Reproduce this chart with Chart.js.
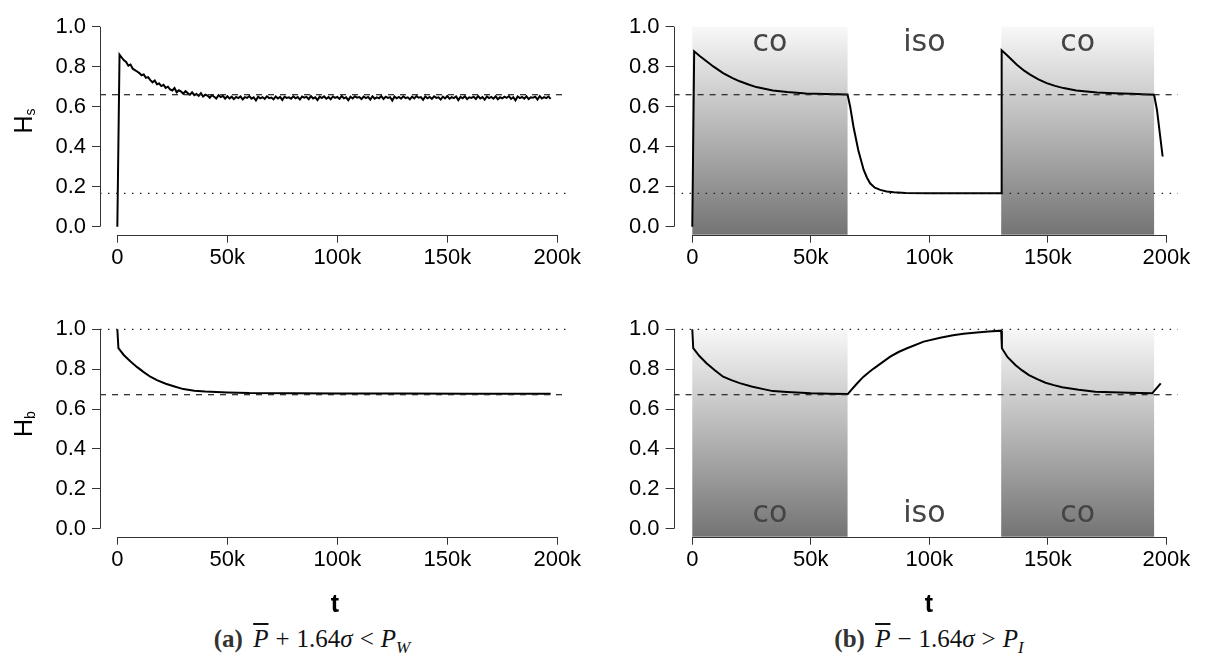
<!DOCTYPE html>
<html>
<head>
<meta charset="utf-8">
<script src="https://cdn.jsdelivr.net/npm/chart.js@4.4.0/dist/chart.umd.min.js"></script>
<style>
  body { margin: 0; background: #fff; }
  #page { position: relative; width: 1210px; height: 655px; overflow: hidden; font-family: "Liberation Sans", Arial, sans-serif; color: #000; }
  canvas { position: absolute; }
  .ytitle { position: absolute; width: 60px; height: 30px; line-height: 30px; text-align: center; font-size: 25px; transform: rotate(-90deg); }
  .ytitle sub { font-size: 14px; vertical-align: -3px; }
  .tlab { position: absolute; width: 40px; text-align: center; font-size: 25px; font-weight: bold; line-height: 30px; }
  .cap { position: absolute; width: 440px; text-align: center; font-family: "Liberation Serif", "DejaVu Serif", serif; font-size: 25px; line-height: 30px; color: #111; }
  .cap b { font-weight: bold; color: #333; margin-right: 4px; }
  .cap .op { margin: 0 7px; }
  .cap sub { font-size: 17px; }
  .ov { text-decoration: overline; }
</style>
</head>
<body>
<div id="page">
  <canvas id="hsA" width="600" height="290" style="left:0;top:0"></canvas>
  <canvas id="hsB" width="610" height="290" style="left:600px;top:0"></canvas>
  <canvas id="hbA" width="600" height="290" style="left:0;top:300px"></canvas>
  <canvas id="hbB" width="610" height="290" style="left:600px;top:300px"></canvas>

  <div class="ytitle" style="left:-7px;top:106px">H<sub>s</sub></div>
  <div class="ytitle" style="left:-7px;top:409px">H<sub>b</sub></div>

  <div class="tlab" style="left:315px;top:588px">t</div>
  <div class="tlab" style="left:909px;top:588px">t</div>

  <div class="cap" style="left:92px;top:624px"><b>(a)</b> <i class="ov">P</i><span class="op">+</span>1.64<i>σ</i><span class="op">&lt;</span><i>P</i><sub><i>W</i></sub></div>
  <div class="cap" style="left:709px;top:624px"><b>(b)</b> <i class="ov">P</i><span class="op">−</span>1.64<i>σ</i><span class="op">&gt;</span><i>P</i><sub><i>I</i></sub></div>
</div>
<script>
// axes
const xTicks = [0, 50000, 100000, 150000, 200000];
const xTickLabels = ['0', '50k', '100k', '150k', '200k'];
const yTicks = [0, 0.2, 0.4, 0.6, 0.8, 1.0];

// reference levels
const hsDash = 0.66, hsDot = 0.167;
const hbDash = 0.672, hbDot = 1.0;

// co / iso phases of run (b)
const phaseStart = [0, 65500, 130300];
const phaseEnd = [65500, 130300, 194800];
const phaseName = ['co', 'iso', 'co'];

// run (a), H_s: one sample every 1000 steps (noisy)
const hsAStep = 1000;
const hsAVals = [
  0.000, 0.860, 0.846, 0.832, 0.824, 0.805, 0.811, 0.790, 0.783, 0.776,
  0.768, 0.757, 0.761, 0.744, 0.748, 0.733, 0.722, 0.731, 0.712, 0.716,
  0.703, 0.709, 0.694, 0.700, 0.686, 0.681, 0.693, 0.672, 0.682, 0.676,
  0.665, 0.678, 0.668, 0.660, 0.672, 0.658, 0.664, 0.654, 0.668, 0.651,
  0.660, 0.656, 0.645, 0.658, 0.650, 0.641, 0.657, 0.648, 0.654, 0.640,
  0.652, 0.641, 0.650, 0.638, 0.649, 0.643, 0.651, 0.636, 0.648, 0.644,
  0.653, 0.640, 0.647, 0.631, 0.650, 0.642, 0.648, 0.639, 0.652, 0.643,
  0.646, 0.637, 0.651, 0.641, 0.649, 0.634, 0.650, 0.644, 0.647, 0.640,
  0.652, 0.642, 0.648, 0.636, 0.651, 0.645, 0.649, 0.638, 0.653, 0.641,
  0.647, 0.633, 0.650, 0.643, 0.652, 0.640, 0.648, 0.637, 0.651, 0.644,
  0.649, 0.639, 0.653, 0.642, 0.647, 0.632, 0.650, 0.641, 0.652, 0.645,
  0.648, 0.638, 0.651, 0.643, 0.649, 0.636, 0.652, 0.640, 0.647, 0.642,
  0.653, 0.639, 0.650, 0.644, 0.648, 0.631, 0.651, 0.642, 0.649, 0.640,
  0.652, 0.643, 0.647, 0.637, 0.650, 0.641, 0.653, 0.645, 0.648, 0.634,
  0.651, 0.642, 0.649, 0.639, 0.652, 0.644, 0.647, 0.636, 0.650, 0.641,
  0.653, 0.640, 0.648, 0.643, 0.651, 0.633, 0.649, 0.642, 0.652, 0.638,
  0.647, 0.644, 0.650, 0.639, 0.653, 0.641, 0.648, 0.635, 0.651, 0.643,
  0.649, 0.640, 0.652, 0.637, 0.647, 0.642, 0.650, 0.644, 0.653, 0.639,
  0.648, 0.632, 0.651, 0.643, 0.649, 0.640, 0.652, 0.638, 0.647, 0.645,
  0.650, 0.636, 0.653, 0.641, 0.648, 0.643, 0.651, 0.639
];

// run (b), H_s
const hsBT = [0, 800, 3000, 6000, 9000, 13000, 17000, 20000, 24000, 27000, 31000, 34000, 40000, 48000, 56000, 65500,
  66600, 68000, 70000, 72300, 73700, 75000, 77000, 79300, 82000, 85000, 90000, 100000, 115000, 130300,
  130500, 133000, 136900, 140000, 142500, 146000, 149500, 153000, 156600, 162000, 170700, 178000, 184800, 194800, 196000, 198400];
const hsBVals = [0.0, 0.877, 0.855, 0.827, 0.800, 0.768, 0.743, 0.727, 0.710, 0.698, 0.688, 0.681, 0.673, 0.666, 0.663, 0.661,
  0.60, 0.50, 0.384, 0.284, 0.245, 0.217, 0.195, 0.184, 0.176, 0.172, 0.169, 0.167, 0.167, 0.167,
  0.882, 0.855, 0.81, 0.78, 0.76, 0.737, 0.718, 0.704, 0.693, 0.681, 0.671, 0.667, 0.665, 0.660, 0.585, 0.351];

// run (a), H_b
const hbAT = [0, 500, 3000, 6000, 9000, 12000, 15000, 18000, 22000, 26000, 30000, 35000, 40000, 50000, 60000, 80000, 100000, 130000, 160000, 197000];
const hbAVals = [1.0, 0.905, 0.87, 0.838, 0.81, 0.785, 0.762, 0.745, 0.727, 0.713, 0.700, 0.692, 0.688, 0.683, 0.680, 0.679, 0.678, 0.678, 0.677, 0.677];

// run (b), H_b
const hbBT = [0, 400, 3000, 6000, 9500, 13000, 16500, 20000, 25000, 30000, 34000, 40000, 50000, 58000, 65600,
  67000, 69400, 72000, 74500, 76500, 80000, 83500, 87000, 90600, 97600, 104600, 110000, 114400, 120000, 125000, 130300,
  130600, 133000, 136400, 139000, 142000, 145500, 149000, 152500, 156000, 163000, 170000, 177000, 184000, 194000, 197600];
const hbBVals = [1.0, 0.905, 0.866, 0.83, 0.795, 0.762, 0.745, 0.73, 0.713, 0.700, 0.690, 0.685, 0.679, 0.677, 0.675,
  0.695, 0.727, 0.76, 0.785, 0.803, 0.833, 0.863, 0.886, 0.905, 0.938, 0.958, 0.97, 0.977, 0.984, 0.989, 0.993,
  0.905, 0.86, 0.82, 0.795, 0.77, 0.75, 0.732, 0.72, 0.709, 0.697, 0.687, 0.684, 0.682, 0.679, 0.729];

const T_MIN = -7880, T_MAX = 204880;
const Y_MIN = -0.04, Y_MAX = 1.04;
const AXIS_COL = '#333';
const tickFont = { family: '"Liberation Sans", Arial, sans-serif', size: 22 };

function pts(ts, vs) { return vs.map((v, i) => ({ x: ts[i], y: v })); }

// R-style axes: line only from first to last tick
const rAxes = {
  id: 'rAxes',
  afterDraw(chart) {
    const { ctx, chartArea, scales: { x, y } } = chart;
    ctx.save();
    ctx.strokeStyle = AXIS_COL;
    ctx.lineWidth = 1;
    ctx.beginPath();
    const by = Math.round(chartArea.bottom) + 0.5;
    ctx.moveTo(x.getPixelForValue(xTicks[0]), by);
    ctx.lineTo(x.getPixelForValue(xTicks[xTicks.length - 1]), by);
    const lx = Math.round(chartArea.left) + 0.5;
    ctx.moveTo(lx, y.getPixelForValue(yTicks[0]));
    ctx.lineTo(lx, y.getPixelForValue(yTicks[yTicks.length - 1]));
    ctx.stroke();
    ctx.restore();
  }
};

function phasePlugin(labelY) {
  return {
    id: 'phases',
    beforeDatasetsDraw(chart) {
      const { ctx, chartArea, scales: { x, y } } = chart;
      const top = y.getPixelForValue(1.0);
      const bot = chartArea.bottom;
      ctx.save();
      phaseName.forEach((n, i) => {
        if (n !== 'co') return;
        const x0 = x.getPixelForValue(phaseStart[i]);
        const x1 = x.getPixelForValue(phaseEnd[i]);
        const g = ctx.createLinearGradient(0, top, 0, bot);
        g.addColorStop(0, '#f8f8f8');
        g.addColorStop(1, '#747474');
        ctx.fillStyle = g;
        ctx.fillRect(x0, top, x1 - x0, bot - top);
      });
      ctx.restore();
    },
    afterDatasetsDraw(chart) {
      const { ctx, scales: { x, y } } = chart;
      ctx.save();
      ctx.font = '30px "DejaVu Sans", sans-serif';
      ctx.fillStyle = '#444';
      ctx.textAlign = 'center';
      ctx.textBaseline = 'alphabetic';
      phaseName.forEach((n, i) => {
        ctx.fillText(n, x.getPixelForValue((phaseStart[i] + phaseEnd[i]) / 2), y.getPixelForValue(labelY));
      });
      ctx.restore();
    }
  };
}

function makePanel(id, p) {
  const datasets = [
    { data: [{ x: T_MIN, y: p.dash }, { x: T_MAX, y: p.dash }], borderColor: '#222', borderWidth: 1.2, borderDash: [6, 6] },
    { data: [{ x: T_MIN, y: p.dot }, { x: T_MAX, y: p.dot }], borderColor: '#222', borderWidth: 1.2, borderDash: [1.5, 6.5] },
    { data: p.data, borderColor: '#000', borderWidth: p.lw || 2 }
  ];
  const plugins = [rAxes];
  if (p.labelY !== undefined) plugins.push(phasePlugin(p.labelY));
  return new Chart(document.getElementById(id), {
    type: 'line',
    data: { datasets },
    plugins,
    options: {
      responsive: false,
      animation: false,
      devicePixelRatio: 1,
      layout: { padding: { left: 0, top: p.top, right: p.right, bottom: 0 } },
      elements: { point: { radius: 0 }, line: { tension: 0, fill: false } },
      plugins: { legend: { display: false }, tooltip: { enabled: false } },
      scales: {
        x: {
          type: 'linear', min: T_MIN, max: T_MAX,
          border: { display: false },
          grid: { drawOnChartArea: false, drawTicks: true, tickLength: 8, color: AXIS_COL },
          afterBuildTicks: s => { s.ticks = xTicks.map(v => ({ value: v })); },
          afterFit: s => { s.height = p.bottomH; s.paddingLeft = 0; s.paddingRight = 0; },
          ticks: { autoSkip: false, maxRotation: 0, padding: 2, color: '#000', font: tickFont,
            callback: (v, i) => xTickLabels[i] }
        },
        y: {
          type: 'linear', min: Y_MIN, max: Y_MAX,
          border: { display: false },
          grid: { drawOnChartArea: false, drawTicks: true, tickLength: 8, color: AXIS_COL },
          afterBuildTicks: s => { s.ticks = yTicks.map(v => ({ value: v })); },
          afterFit: s => { s.width = p.leftW; s.paddingTop = 0; s.paddingBottom = 0; },
          ticks: { autoSkip: false, padding: 6, color: '#000', font: tickFont,
            callback: v => v.toFixed(1) }
        }
      }
    }
  });
}

makePanel('hsA', { data: hsAVals.map((v, i) => ({ x: i * hsAStep, y: v })), dash: hsDash, dot: hsDot,
  leftW: 100, top: 18.7, right: 32, bottomH: 55.3, lw: 2 });
makePanel('hsB', { data: pts(hsBT, hsBVals), dash: hsDash, dot: hsDot,
  leftW: 73.6, top: 18.7, right: 32, bottomH: 55.3, labelY: 0.878 });
makePanel('hbA', { data: pts(hbAT, hbAVals), dash: hbDash, dot: hbDot,
  leftW: 100, top: 21.3, right: 32, bottomH: 53.3 });
makePanel('hbB', { data: pts(hbBT, hbBVals), dash: hbDash, dot: hbDot,
  leftW: 73.6, top: 21.3, right: 32, bottomH: 53.3, labelY: 0.035 });
</script>
</body>
</html>
